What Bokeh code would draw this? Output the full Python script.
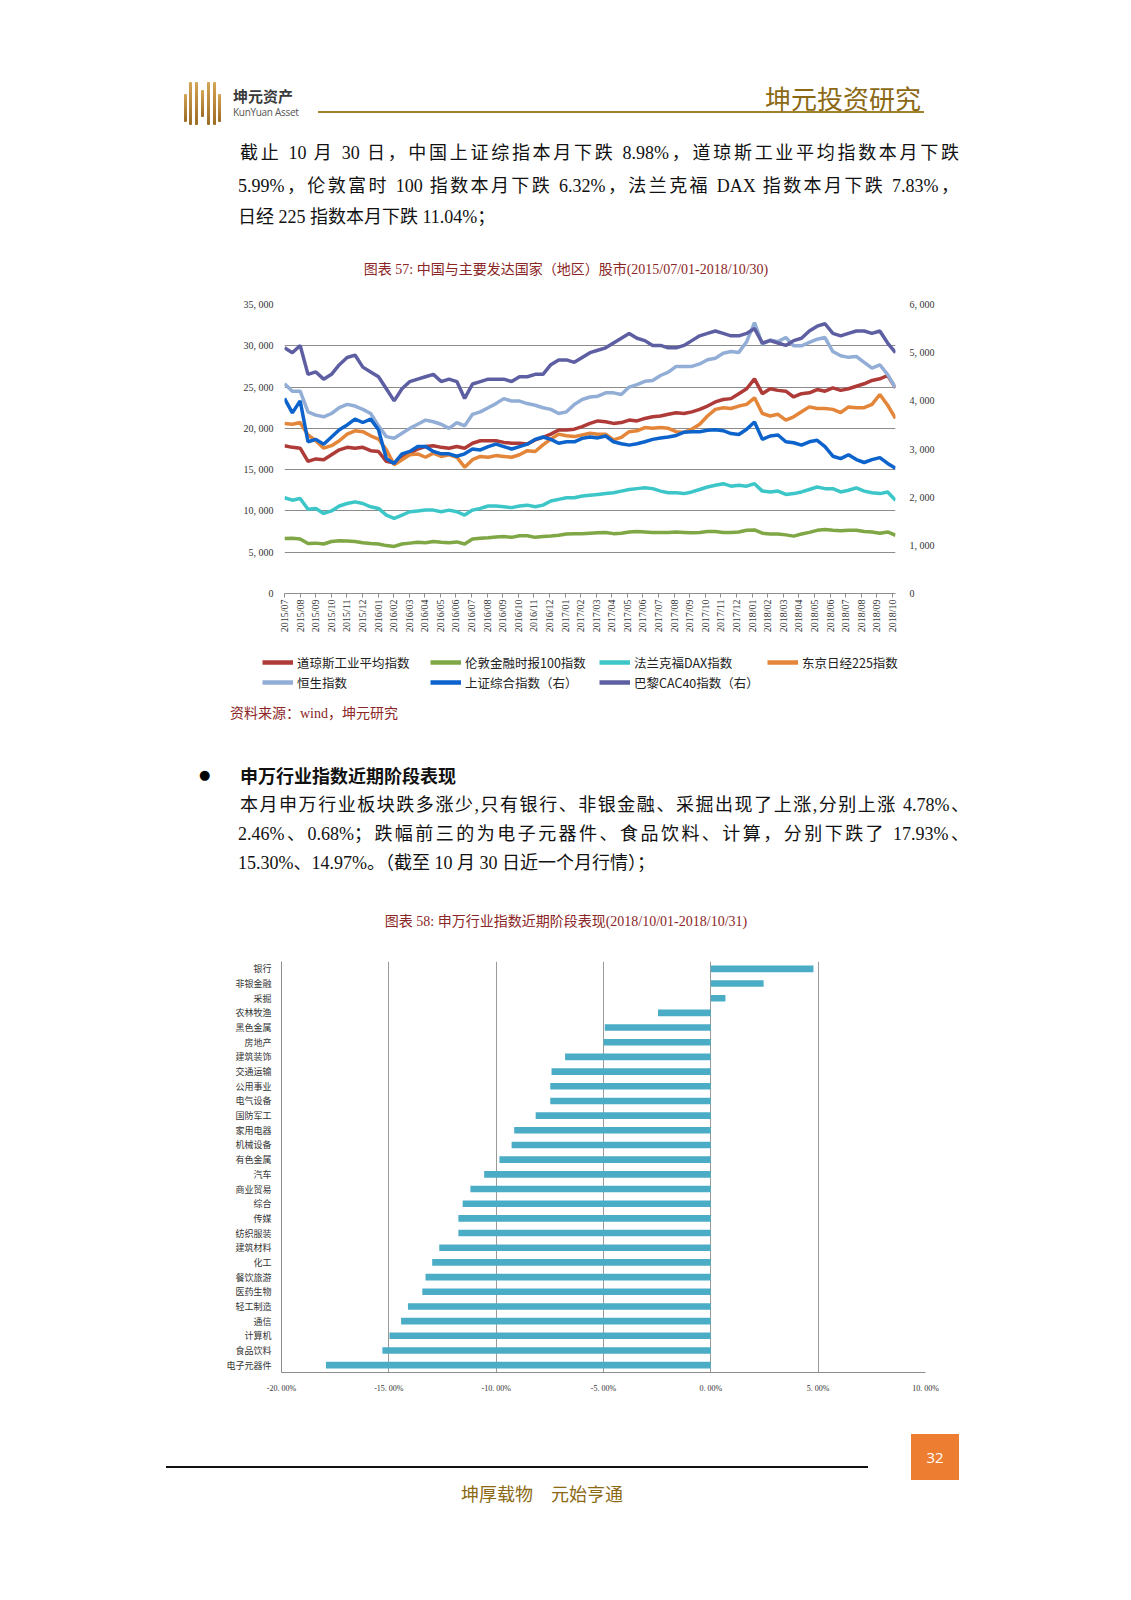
from math import pi
from bokeh.plotting import figure
from bokeh.models import (Range1d, LinearAxis, FixedTicker, Legend, LegendItem,
                          Div, Spacer, FactorRange)
from bokeh.layouts import column, row
from bokeh.embed import file_html
from bokeh.resources import INLINE

# ---------------------------------------------------------------- data: chart 57
MONTH_LABELS = [
    "2015/07", "2015/08", "2015/09", "2015/10", "2015/11", "2015/12",
    "2016/01", "2016/02", "2016/03", "2016/04", "2016/05", "2016/06",
    "2016/07", "2016/08", "2016/09", "2016/10", "2016/11", "2016/12",
    "2017/01", "2017/02", "2017/03", "2017/04", "2017/05", "2017/06",
    "2017/07", "2017/08", "2017/09", "2017/10", "2017/11", "2017/12",
    "2018/01", "2018/02", "2018/03", "2018/04", "2018/05", "2018/06",
    "2018/07", "2018/08", "2018/09", "2018/10",
]
DATA_SPAN_MONTHS = 39.2   # last observation (2018/10/30) on the month axis

LEFT_TICKS = [0, 5000, 10000, 15000, 20000, 25000, 30000, 35000]
LEFT_TICK_LABELS = ["0", "5, 000", "10, 000", "15, 000", "20, 000", "25, 000", "30, 000", "35, 000"]
RIGHT_TICKS = [0, 1000, 2000, 3000, 4000, 5000, 6000]
RIGHT_TICK_LABELS = ["0", "1, 000", "2, 000", "3, 000", "4, 000", "5, 000", "6, 000"]

# half-monthly readings
DOW = [
    17900, 17700, 17600, 16000, 16300, 16200, 16800, 17400, 17700, 17600,
    17700, 17300, 17200, 16000, 15800, 16400, 17000, 17500, 17800, 17900,
    17700, 17600, 17800, 17600, 18200, 18500, 18500, 18500, 18300, 18200,
    18200, 18100, 18600, 18900, 19300, 19800, 19800, 19900, 20200, 20600,
    20900, 20800, 20600, 20700, 21000, 20900, 21200, 21400, 21500, 21700,
    21900, 21800, 22000, 22300, 22700, 23200, 23500, 23600, 24200, 24800,
    26000, 24200, 24800, 24600, 24500, 23800, 24200, 24300, 24700, 24500,
    24900, 24600, 24800, 25100, 25400, 25800, 26000, 26400, 24900,
]
FTSE = [
    6650, 6700, 6600, 6050, 6100, 6000, 6300, 6400, 6350, 6300,
    6150, 6050, 6000, 5800, 5700, 6000, 6100, 6200, 6150, 6300,
    6200, 6150, 6250, 6000, 6600, 6700, 6750, 6850, 6900, 6800,
    7000, 7000, 6800, 6900, 6950, 7050, 7200, 7250, 7250, 7300,
    7350, 7400, 7250, 7300, 7450, 7500, 7450, 7400, 7400, 7400,
    7450, 7400, 7350, 7400, 7500, 7500, 7400, 7400, 7450, 7650,
    7700, 7300, 7200, 7200, 7100, 6950, 7200, 7400, 7650, 7750,
    7650, 7600, 7650, 7650, 7500, 7450, 7300, 7450, 7050,
]
DAX = [
    11600, 11300, 11500, 10200, 10300, 9700, 10000, 10600, 10900, 11100,
    10900, 10500, 10300, 9500, 9100, 9500, 9900, 10000, 10100, 10100,
    9900, 10100, 9900, 9500, 10100, 10300, 10600, 10600, 10500, 10400,
    10600, 10700, 10500, 10700, 11200, 11400, 11600, 11600, 11800, 11900,
    12000, 12100, 12200, 12400, 12600, 12700, 12800, 12700, 12400, 12200,
    12200, 12100, 12300, 12600, 12900, 13100, 13300, 13000, 13100, 13000,
    13300, 12400, 12300, 12400, 12000, 12100, 12300, 12600, 12900, 12700,
    12700, 12300, 12500, 12800, 12400, 12200, 12100, 12300, 11300,
]
NIKKEI = [
    20600, 20500, 20700, 19200, 18500, 17600, 17900, 18500, 19300, 19700,
    19600, 19100, 18700, 17400, 15600, 16200, 16800, 16900, 16500, 17000,
    16600, 16800, 16500, 15300, 16200, 16600, 16500, 16700, 16600, 16500,
    16800, 17300, 17200, 18000, 18700, 19300, 19100, 19000, 19200, 19400,
    19300, 19300, 18600, 18900, 19600, 19700, 20100, 20000, 20100, 20000,
    19600, 19500, 19900, 20500, 21500, 22300, 22500, 22400, 22700, 22900,
    23700, 21800, 21500, 21700, 21000, 21400, 22000, 22600, 22400, 22400,
    22300, 21900, 22600, 22500, 22500, 22900, 24100, 22800, 21200,
]
HSI = [
    25400, 24500, 24500, 22000, 21600, 21400, 21800, 22500, 22900, 22700,
    22300, 21800, 20300, 19000, 18800, 19400, 20000, 20500, 21000, 20800,
    20500, 20000, 20700, 20300, 21700, 22000, 22500, 23000, 23600, 23300,
    23300, 23000, 22800, 22500, 22300, 21800, 22000, 22900, 23500, 23800,
    23900, 24300, 24300, 24100, 25000, 25300, 25700, 25800, 26400, 26800,
    27500, 27500, 27500, 27800, 28300, 28500, 29100, 29300, 29200, 30500,
    32800, 30200, 30700, 30500, 31000, 30000, 30000, 30400, 30800, 31000,
    29300, 28800, 28600, 28700, 28000, 27300, 27700, 26500, 24900,
]
SSE = [
    4050, 3750, 4000, 3150, 3200, 3100, 3250, 3400, 3500, 3620,
    3550, 3620, 3400, 2800, 2700, 2900, 2950, 3050, 3050, 2950,
    2900, 2900, 2850, 2900, 3000, 2980, 3050, 3100, 3050, 3000,
    3050, 3100, 3200, 3250, 3200, 3120, 3150, 3150, 3220, 3250,
    3230, 3270, 3150, 3110, 3080, 3110, 3150, 3200, 3230, 3250,
    3280, 3350, 3360, 3360, 3390, 3400, 3380, 3320, 3300, 3410,
    3560, 3200, 3270, 3290, 3150, 3130, 3080, 3150, 3180, 3050,
    2850, 2800, 2880, 2780, 2720, 2780, 2820, 2700, 2600,
]
CAC = [
    5100, 5000, 5150, 4550, 4600, 4450, 4550, 4750, 4900, 4950,
    4700, 4600, 4500, 4250, 4000, 4250, 4400, 4450, 4500, 4550,
    4400, 4450, 4400, 4050, 4350, 4400, 4450, 4450, 4450, 4400,
    4500, 4500, 4550, 4550, 4750, 4850, 4850, 4800, 4900, 5000,
    5050, 5100, 5200, 5300, 5400, 5300, 5250, 5150, 5150, 5100,
    5100, 5150, 5250, 5350, 5400, 5450, 5400, 5350, 5350, 5400,
    5500, 5200, 5250, 5200, 5150, 5250, 5300, 5450, 5550, 5600,
    5400, 5350, 5400, 5450, 5450, 5400, 5450, 5200, 5000,
]

SERIES = [
    ("道琼斯工业平均指数", DOW, "#AE3B38", "default"),
    ("伦敦金融时报100指数", FTSE, "#7FA745", "default"),
    ("法兰克福DAX指数", DAX, "#3CC6C8", "default"),
    ("东京日经225指数", NIKKEI, "#E4863A", "default"),
    ("恒生指数", HSI, "#92AED6", "default"),
    ("上证综合指数（右）", SSE, "#0B63CB", "right"),
    ("巴黎CAC40指数（右）", CAC, "#5E5FA2", "right"),
]

# ---------------------------------------------------------------- data: chart 58
INDUSTRIES = [
    "银行", "非银金融", "采掘", "农林牧渔", "黑色金属", "房地产", "建筑装饰",
    "交通运输", "公用事业", "电气设备", "国防军工", "家用电器", "机械设备",
    "有色金属", "汽车", "商业贸易", "综合", "传媒", "纺织服装", "建筑材料",
    "化工", "餐饮旅游", "医药生物", "轻工制造", "通信", "计算机", "食品饮料",
    "电子元器件",
]
CHANGES = [
    4.78, 2.46, 0.68, -2.46, -4.94, -5.00, -6.79, -7.42, -7.48, -7.48,
    -8.16, -9.16, -9.28, -9.85, -10.56, -11.20, -11.56, -11.76, -11.76,
    -12.65, -12.98, -13.29, -13.44, -14.11, -14.43, -14.97, -15.30, -17.93,
]
BAR_TICKS = [-20, -15, -10, -5, 0, 5, 10]
BAR_TICK_LABELS = ["-20. 00%", "-15. 00%", "-10. 00%", "-5. 00%", "0. 00%", "5. 00%", "10. 00%"]

# ---------------------------------------------------------------- styles
SERIF = "Liberation Serif"
CJK = "Noto Sans CJK SC"
BODY_FONT = "'Liberation Serif','Noto Sans CJK SC',serif"
MAROON = "#8B2626"
GOLD = "#8B6914"
GRID = "#8C8C8C"

# ---------------------------------------------------------------- chart 57
p1 = figure(width=720, height=360, output_backend="svg", toolbar_location=None,
            x_range=Range1d(0, DATA_SPAN_MONTHS), y_range=Range1d(0, 35000),
            min_border_left=54, min_border_right=55, min_border_top=19,
            min_border_bottom=52, outline_line_color=None)
p1.extra_y_ranges = {"right": Range1d(0, 6000)}
p1.xgrid.visible = False
p1.ygrid.ticker = FixedTicker(ticks=LEFT_TICKS)
p1.ygrid.grid_line_color = GRID

ly = p1.yaxis[0]
ly.ticker = FixedTicker(ticks=LEFT_TICKS)
ly.major_label_overrides = dict(zip(LEFT_TICKS, LEFT_TICK_LABELS))
ly.axis_line_color = None
ly.major_tick_line_color = None
ly.minor_tick_line_color = None
ly.major_label_text_font = SERIF
ly.major_label_text_font_size = "10px"
ly.major_label_text_color = "#333333"
ly.major_label_standoff = 5

ry = LinearAxis(y_range_name="right", ticker=FixedTicker(ticks=RIGHT_TICKS),
                major_label_overrides=dict(zip(RIGHT_TICKS, RIGHT_TICK_LABELS)),
                axis_line_color=None, major_tick_line_color=None,
                minor_tick_line_color=None, major_label_text_font=SERIF,
                major_label_text_font_size="10px", major_label_text_color="#333333",
                major_label_standoff=8)
p1.add_layout(ry, "right")

bx = p1.xaxis[0]
month_pos = list(range(len(MONTH_LABELS)))
bx.ticker = FixedTicker(ticks=month_pos)
bx.major_label_overrides = dict(zip(month_pos, MONTH_LABELS))
bx.major_label_orientation = pi / 2
bx.axis_line_color = GRID
bx.major_tick_line_color = GRID
bx.major_tick_out = 4
bx.major_tick_in = 0
bx.minor_tick_line_color = None
bx.major_label_text_font = SERIF
bx.major_label_text_font_size = "10px"
bx.major_label_text_color = "#333333"
bx.major_label_standoff = 2

for name, vals, color, rng in SERIES:
    xs = [i * DATA_SPAN_MONTHS / (len(vals) - 1) for i in range(len(vals))]
    p1.line(xs, vals, line_color=color, line_width=3.5, y_range_name=rng)

# legend strip under chart 57: same series, plotted outside its (empty) view,
# so only the legend entries are visible
p_leg = figure(width=720, height=52, output_backend="svg", toolbar_location=None,
               x_range=Range1d(0, DATA_SPAN_MONTHS), y_range=Range1d(-2, -1),
               x_axis_type=None, y_axis_type=None, outline_line_color=None,
               min_border_left=0, min_border_right=0, min_border_top=0,
               min_border_bottom=0)
p_leg.xgrid.visible = False
p_leg.ygrid.visible = False
LEGEND_SLOTS = [(32, 25), (200, 25), (369, 25), (537, 25),
                (32, 5), (200, 5), (369, 5)]
for (name, vals, color, rng), slot in zip(SERIES, LEGEND_SLOTS):
    xs = [i * DATA_SPAN_MONTHS / (len(vals) - 1) for i in range(len(vals))]
    r = p_leg.line(xs, vals, line_color=color, line_width=4.5)
    leg = Legend(items=[LegendItem(label=name, renderers=[r])], location=slot,
                 padding=0, margin=0, spacing=0, glyph_width=31, glyph_height=20,
                 label_height=20, label_standoff=4, label_text_font=CJK,
                 label_text_font_size="12.5px", label_text_color="#222222",
                 border_line_alpha=0, background_fill_alpha=0)
    p_leg.add_layout(leg)

# ---------------------------------------------------------------- chart 58
p2 = figure(width=730, height=460, output_backend="svg", toolbar_location=None,
            y_range=FactorRange(factors=list(reversed(INDUSTRIES))),
            x_range=Range1d(-20, 10),
            min_border_left=66, min_border_right=20, min_border_top=26,
            min_border_bottom=23, outline_line_color=None)
p2.hbar(y=INDUSTRIES, left=0, right=CHANGES, height=0.45,
        fill_color="#4BACC6", line_color=None)
p2.ygrid.visible = False
p2.xgrid.ticker = FixedTicker(ticks=BAR_TICKS)
p2.xgrid.grid_line_color = "#9A9A9A"

ax2 = p2.xaxis[0]
ax2.ticker = FixedTicker(ticks=BAR_TICKS)
ax2.major_label_overrides = dict(zip(BAR_TICKS, BAR_TICK_LABELS))
ax2.axis_line_color = GRID
ax2.major_tick_line_color = None
ax2.minor_tick_line_color = None
ax2.major_label_text_font = SERIF
ax2.major_label_text_font_size = "8px"
ax2.major_label_text_color = "#333333"
ax2.major_label_standoff = 5

ay2 = p2.yaxis[0]
ay2.axis_line_color = GRID
ay2.major_tick_line_color = None
ay2.minor_tick_line_color = None
ay2.major_label_text_font = CJK
ay2.major_label_text_font_size = "9px"
ay2.major_label_text_color = "#333333"
ay2.major_label_standoff = 4


# ---------------------------------------------------------------- page text
def box(left, top, content, style):
    return f'<div style="position:absolute;left:{left}px;top:{top}px;{style}">{content}</div>'


def page_div(inner, w, h):
    html = f'<div style="position:relative;width:{w}px;height:{h}px;overflow:visible;">{inner}</div>'
    return Div(text=html, width=w, height=h, margin=0)


logo_bars = [(176, 86, 28), (181, 74, 43), (187, 74, 43), (193, 82, 27),
             (199, 74, 43), (205, 74, 43), (210, 86, 28)]
logo = "".join(
    box(x, y, "", f"width:3px;height:{h}px;background:linear-gradient(#D4A553,#9C6B25);border-radius:1px;")
    for x, y, h in logo_bars)

body = f"font-family:{BODY_FONT};font-size:18px;line-height:24px;color:#111;"
just = "text-align:justify;text-align-last:justify;"

header_inner = (
    logo
    + box(225, 79, "坤元资产", f"font-family:'{CJK}';font-weight:bold;font-size:15px;line-height:18px;color:#3a3a3a;white-space:nowrap;")
    + box(225, 98, "KunYuan Asset", "font-family:'Open Sans';font-size:10px;line-height:12px;color:#555;white-space:nowrap;letter-spacing:-0.3px;")
    + box(310, 103, "", "width:606px;height:2px;background:#A0822D;")
    + f'<div style="position:absolute;right:202px;top:75px;font-family:\'{CJK}\';font-size:26px;line-height:30px;color:{GOLD};white-space:nowrap;">坤元投资研究</div>'
    + box(232, 133, "截止 10 月 30 日，中国上证综指本月下跌 8.98%，道琼斯工业平均指数本月下跌", body + just + "width:719px;")
    + box(230, 166, "5.99%，伦敦富时 100 指数本月下跌 6.32%，法兰克福 DAX 指数本月下跌 7.83%，", body + just + "width:721px;")
    + box(230, 197, "日经 225 指数本月下跌 11.04%；", body + "white-space:nowrap;")
    + box(0, 254, "图表 57: 中国与主要发达国家（地区）股市(2015/07/01-2018/10/30)",
          f"width:1116px;text-align:center;font-family:{BODY_FONT};font-size:14px;line-height:16px;color:{MAROON};")
)
header = page_div(header_inner, 1115, 277)

mid_inner = (
    box(222, 9, "资料来源：wind，坤元研究", f"font-family:{BODY_FONT};font-size:14px;line-height:16px;color:{MAROON};white-space:nowrap;")
    + box(191, 70, "●", "font-family:'DejaVu Sans';font-size:13px;line-height:16px;color:#000;")
    + box(232, 66, "申万行业指数近期阶段表现", f"font-family:'{CJK}';font-weight:bold;font-size:18px;line-height:24px;color:#111;white-space:nowrap;")
    + box(232, 96, "本月申万行业板块跌多涨少,只有银行、非银金融、采掘出现了上涨,分别上涨 4.78%、", body + just + "width:729px;")
    + box(230, 125, "2.46%、0.68%；跌幅前三的为电子元器件、食品饮料、计算，分别下跌了 17.93%、", body + just + "width:731px;")
    + box(230, 154, "15.30%、14.97%。（截至 10 月 30 日近一个月行情）；", body + "white-space:nowrap;")
    + box(0, 217, "图表 58: 申万行业指数近期阶段表现(2018/10/01-2018/10/31)",
          f"width:1116px;text-align:center;font-family:{BODY_FONT};font-size:14px;line-height:16px;color:{MAROON};")
)
mid = page_div(mid_inner, 1115, 238)

footer_inner = (
    box(903, 39, "32", "width:48px;height:46px;background:#ED7D31;color:#fff;font-family:'Open Sans';font-size:15px;line-height:46px;text-align:center;")
    + box(158, 71, "", "width:702px;height:2px;background:#111;")
    + box(0, 86, "坤厚载物　元始亨通", f"width:1068px;text-align:center;font-family:'{CJK}';font-size:18px;line-height:24px;color:{GOLD};")
)
footer = page_div(footer_inner, 1115, 180)

layout = column(
    header,
    row(Spacer(width=222, height=360), p1, spacing=0),
    row(Spacer(width=222, height=52), p_leg, spacing=0),
    mid,
    row(Spacer(width=207, height=460), p2, spacing=0),
    footer,
    spacing=0,
)
layout.margin = (8, 0, 0, 8)

open("out.html", "w").write(file_html(layout, INLINE))
